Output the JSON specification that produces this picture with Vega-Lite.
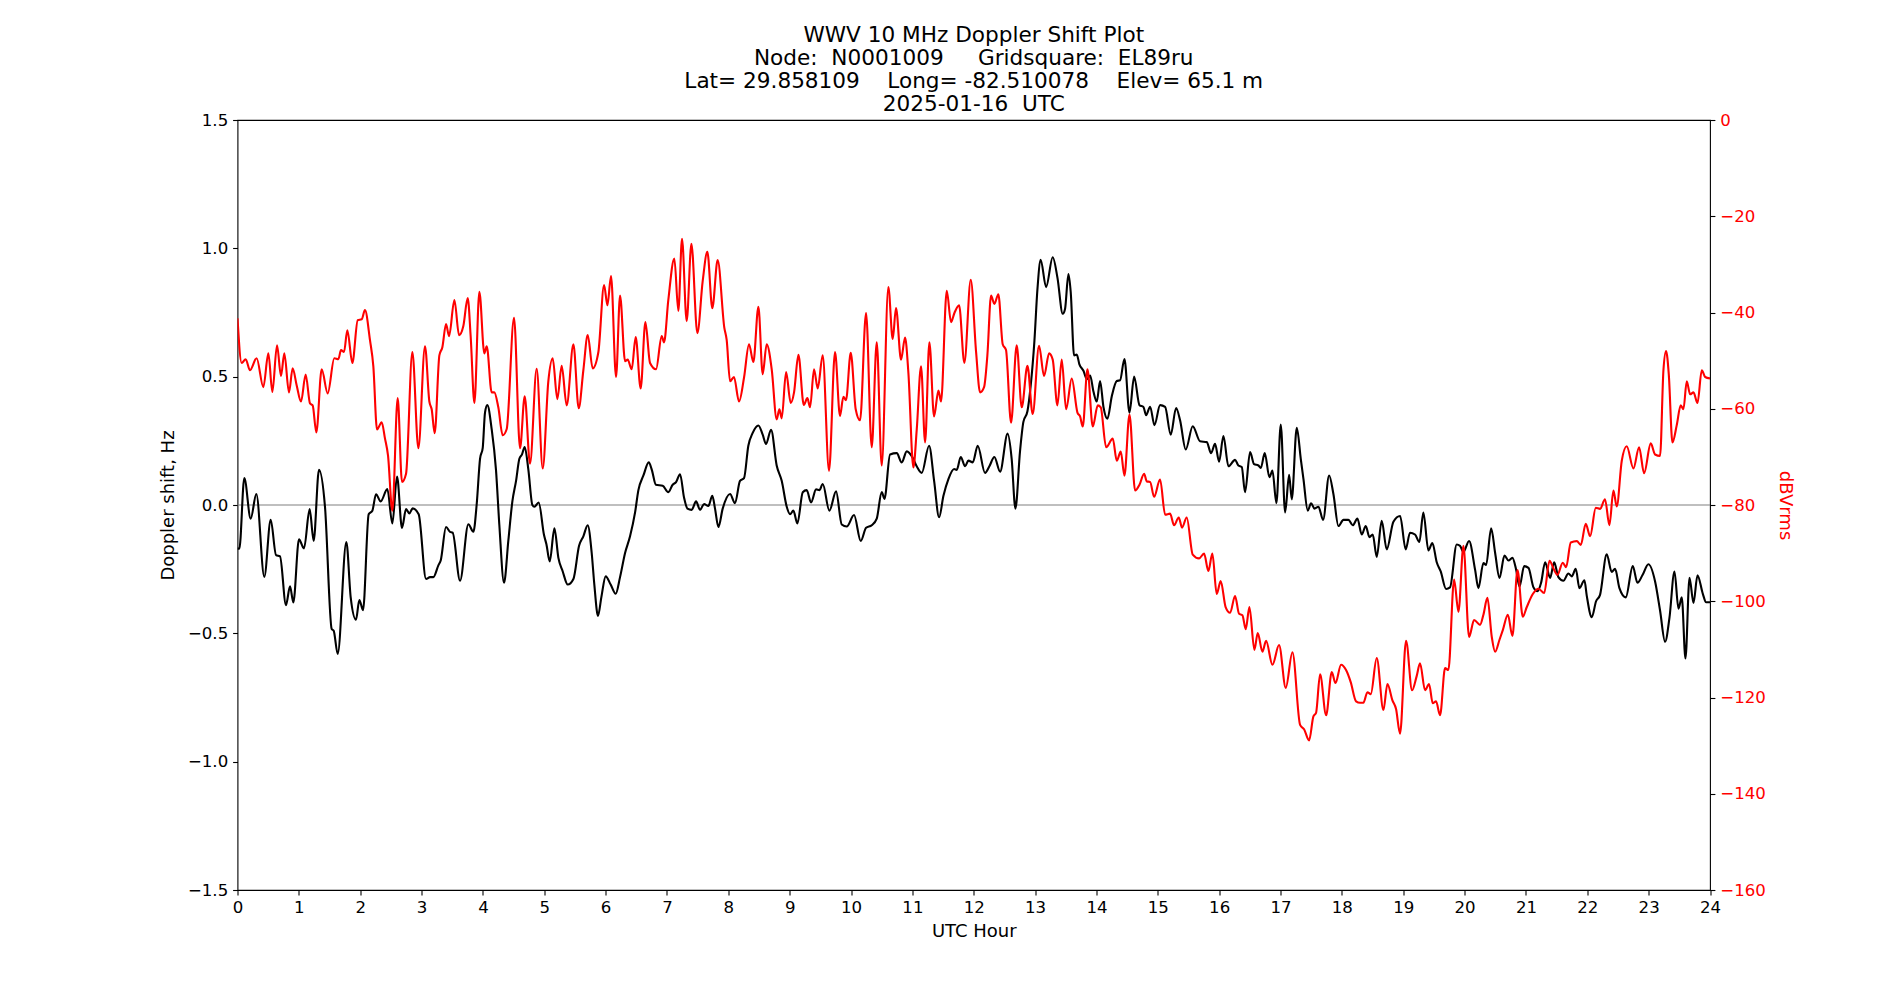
{
"$schema": "https://vega.github.io/schema/vega-lite/v6.json",
"width": 1472.5, "height": 770,
"autosize": {"type": "none"},
"padding": {"left": 237.5, "top": 120, "right": 190, "bottom": 110},
"background": "white",
"config": {
 "view": {"stroke": "black", "strokeWidth": 1.1},
 "font": "DejaVu Sans",
 "axis": {"grid": false, "domain": false, "tickColor": "black", "tickSize": 4.9, "tickWidth": 1.1, "labelFont": "DejaVu Sans", "labelFontSize": 16.6, "labelColor": "black", "labelPadding": 4.9, "labelFlush": false, "labelOverlap": false, "titleFont": "DejaVu Sans", "titleFontSize": 18, "titleFontWeight": "normal", "titleColor": "black"}
},
"title": {"text": ["WWV 10 MHz Doppler Shift Plot", "Node:\u00a0 N0001009 \u00a0\u00a0\u00a0 Gridsquare:\u00a0 EL89ru", "Lat= 29.858109 \u00a0\u00a0 Long= -82.510078 \u00a0\u00a0 Elev= 65.1 m", "2025-01-16\u00a0 UTC"], "font": "DejaVu Sans", "fontSize": 21.6, "fontWeight": "normal", "color": "black", "lineHeight": 23, "anchor": "middle", "offset": -4},
"datasets": {
"doppler": [
{"h":0,"v":-0.17},{"h":0.03,"v":-0.17},{"h":0.111,"v":0.105},{"h":0.215,"v":-0.053},{"h":0.307,"v":0.043},{"h":0.437,"v":-0.28},{"h":0.541,"v":-0.058},{"h":0.628,"v":-0.195},{"h":0.693,"v":-0.2},{"h":0.79,"v":-0.39},{"h":0.856,"v":-0.317},{"h":0.91,"v":-0.38},{"h":1.002,"v":-0.134},{"h":1.084,"v":-0.169},{"h":1.176,"v":-0.016},{"h":1.241,"v":-0.14},{"h":1.328,"v":0.137},{"h":1.426,"v":-0.007},{"h":1.535,"v":-0.483},{"h":1.568,"v":-0.49},{"h":1.633,"v":-0.58},{"h":1.774,"v":-0.144},{"h":1.845,"v":-0.36},{"h":1.931,"v":-0.447},{"h":1.986,"v":-0.37},{"h":2.046,"v":-0.41},{"h":2.138,"v":-0.036},{"h":2.198,"v":-0.022},{"h":2.258,"v":0.042},{"h":2.334,"v":0.014},{"h":2.442,"v":0.062},{"h":2.524,"v":-0.072},{"h":2.6,"v":0.111},{"h":2.681,"v":-0.089},{"h":2.747,"v":-0.016},{"h":2.801,"v":-0.033},{"h":2.855,"v":-0.013},{"h":2.953,"v":-0.036},{"h":3.073,"v":-0.288},{"h":3.138,"v":-0.281},{"h":3.192,"v":-0.281},{"h":3.274,"v":-0.235},{"h":3.312,"v":-0.216},{"h":3.399,"v":-0.086},{"h":3.464,"v":-0.105},{"h":3.507,"v":-0.108},{"h":3.627,"v":-0.295},{"h":3.763,"v":-0.075},{"h":3.844,"v":-0.104},{"h":3.899,"v":0.004},{"h":3.953,"v":0.18},{"h":3.997,"v":0.223},{"h":4.034,"v":0.36},{"h":4.072,"v":0.389},{"h":4.143,"v":0.295},{"h":4.213,"v":0.137},{"h":4.268,"v":-0.079},{"h":4.344,"v":-0.303},{"h":4.415,"v":-0.137},{"h":4.48,"v":0.014},{"h":4.54,"v":0.094},{"h":4.594,"v":0.18},{"h":4.637,"v":0.197},{"h":4.681,"v":0.226},{"h":4.741,"v":0.137},{"h":4.806,"v":0},{"h":4.839,"v":-0.007},{"h":4.909,"v":0.01},{"h":4.996,"v":-0.117},{"h":5.035,"v":-0.153},{"h":5.089,"v":-0.22},{"h":5.165,"v":-0.091},{"h":5.23,"v":-0.206},{"h":5.301,"v":-0.259},{"h":5.382,"v":-0.31},{"h":5.475,"v":-0.288},{"h":5.567,"v":-0.159},{"h":5.637,"v":-0.122},{"h":5.708,"v":-0.079},{"h":5.773,"v":-0.187},{"h":5.816,"v":-0.31},{"h":5.876,"v":-0.432},{"h":5.93,"v":-0.36},{"h":6.001,"v":-0.278},{"h":6.082,"v":-0.31},{"h":6.164,"v":-0.346},{"h":6.235,"v":-0.281},{"h":6.317,"v":-0.187},{"h":6.398,"v":-0.122},{"h":6.48,"v":-0.029},{"h":6.534,"v":0.058},{"h":6.616,"v":0.115},{"h":6.703,"v":0.166},{"h":6.753,"v":0.137},{"h":6.819,"v":0.079},{"h":6.93,"v":0.075},{"h":7.022,"v":0.05},{"h":7.093,"v":0.079},{"h":7.148,"v":0.089},{"h":7.213,"v":0.12},{"h":7.278,"v":0.029},{"h":7.333,"v":-0.014},{"h":7.403,"v":-0.019},{"h":7.474,"v":0.014},{"h":7.539,"v":-0.019},{"h":7.604,"v":0.004},{"h":7.674,"v":-0.004},{"h":7.739,"v":0.036},{"h":7.783,"v":-0.014},{"h":7.838,"v":-0.086},{"h":7.908,"v":-0.014},{"h":8.028,"v":0.043},{"h":8.109,"v":0.007},{"h":8.19,"v":0.094},{"h":8.256,"v":0.105},{"h":8.326,"v":0.231},{"h":8.397,"v":0.281},{"h":8.49,"v":0.31},{"h":8.56,"v":0.274},{"h":8.615,"v":0.238},{"h":8.696,"v":0.293},{"h":8.788,"v":0.154},{"h":8.87,"v":0.094},{"h":8.952,"v":-0.007},{"h":9.006,"v":-0.036},{"h":9.06,"v":-0.022},{"h":9.125,"v":-0.072},{"h":9.213,"v":0.05},{"h":9.277,"v":0.058},{"h":9.348,"v":0.01},{"h":9.43,"v":0.061},{"h":9.484,"v":0.058},{"h":9.539,"v":0.082},{"h":9.647,"v":-0.022},{"h":9.756,"v":0.053},{"h":9.848,"v":-0.076},{"h":9.93,"v":-0.084},{"h":10.049,"v":-0.039},{"h":10.158,"v":-0.14},{"h":10.245,"v":-0.089},{"h":10.337,"v":-0.079},{"h":10.419,"v":-0.053},{"h":10.5,"v":0.05},{"h":10.545,"v":0.024},{"h":10.636,"v":0.197},{"h":10.745,"v":0.202},{"h":10.826,"v":0.166},{"h":10.908,"v":0.209},{"h":11.005,"v":0.184},{"h":11.07,"v":0.151},{"h":11.152,"v":0.125},{"h":11.272,"v":0.231},{"h":11.354,"v":0.094},{"h":11.435,"v":-0.048},{"h":11.506,"v":0.036},{"h":11.587,"v":0.101},{"h":11.68,"v":0.14},{"h":11.723,"v":0.137},{"h":11.788,"v":0.187},{"h":11.859,"v":0.151},{"h":11.913,"v":0.173},{"h":11.984,"v":0.166},{"h":12.065,"v":0.231},{"h":12.184,"v":0.125},{"h":12.255,"v":0.151},{"h":12.336,"v":0.187},{"h":12.429,"v":0.13},{"h":12.552,"v":0.278},{"h":12.618,"v":0.18},{"h":12.679,"v":-0.014},{"h":12.754,"v":0.209},{"h":12.809,"v":0.324},{"h":12.875,"v":0.365},{"h":12.929,"v":0.467},{"h":12.989,"v":0.64},{"h":13.038,"v":0.841},{"h":13.091,"v":0.955},{"h":13.179,"v":0.849},{"h":13.287,"v":0.965},{"h":13.364,"v":0.886},{"h":13.45,"v":0.745},{"h":13.488,"v":0.764},{"h":13.543,"v":0.9},{"h":13.581,"v":0.828},{"h":13.635,"v":0.583},{"h":13.679,"v":0.586},{"h":13.722,"v":0.548},{"h":13.788,"v":0.523},{"h":13.843,"v":0.49},{"h":13.897,"v":0.504},{"h":13.951,"v":0.442},{"h":14.005,"v":0.403},{"h":14.059,"v":0.483},{"h":14.114,"v":0.382},{"h":14.179,"v":0.336},{"h":14.25,"v":0.424},{"h":14.331,"v":0.483},{"h":14.385,"v":0.486},{"h":14.456,"v":0.569},{"h":14.538,"v":0.36},{"h":14.614,"v":0.5},{"h":14.701,"v":0.389},{"h":14.766,"v":0.382},{"h":14.809,"v":0.35},{"h":14.875,"v":0.383},{"h":14.945,"v":0.311},{"h":15.037,"v":0.389},{"h":15.119,"v":0.382},{"h":15.211,"v":0.274},{"h":15.298,"v":0.378},{"h":15.363,"v":0.33},{"h":15.455,"v":0.216},{"h":15.569,"v":0.307},{"h":15.689,"v":0.248},{"h":15.798,"v":0.245},{"h":15.868,"v":0.202},{"h":15.933,"v":0.238},{"h":15.999,"v":0.169},{"h":16.069,"v":0.269},{"h":16.151,"v":0.151},{"h":16.259,"v":0.176},{"h":16.313,"v":0.154},{"h":16.368,"v":0.148},{"h":16.422,"v":0.05},{"h":16.504,"v":0.206},{"h":16.569,"v":0.159},{"h":16.64,"v":0.154},{"h":16.678,"v":0.144},{"h":16.743,"v":0.202},{"h":16.819,"v":0.108},{"h":16.868,"v":0.134},{"h":16.933,"v":0.007},{"h":17.004,"v":0.313},{"h":17.075,"v":-0.029},{"h":17.14,"v":0.118},{"h":17.183,"v":0.022},{"h":17.265,"v":0.301},{"h":17.33,"v":0.18},{"h":17.374,"v":0.101},{"h":17.444,"v":-0.022},{"h":17.498,"v":0.007},{"h":17.553,"v":-0.014},{"h":17.618,"v":-0.007},{"h":17.694,"v":-0.058},{"h":17.792,"v":0.115},{"h":17.862,"v":0.043},{"h":17.944,"v":-0.082},{"h":18.025,"v":-0.058},{"h":18.107,"v":-0.058},{"h":18.177,"v":-0.079},{"h":18.253,"v":-0.053},{"h":18.324,"v":-0.115},{"h":18.389,"v":-0.082},{"h":18.449,"v":-0.125},{"h":18.503,"v":-0.115},{"h":18.568,"v":-0.202},{"h":18.649,"v":-0.062},{"h":18.731,"v":-0.173},{"h":18.84,"v":-0.065},{"h":18.949,"v":-0.043},{"h":19.04,"v":-0.173},{"h":19.111,"v":-0.108},{"h":19.192,"v":-0.115},{"h":19.263,"v":-0.144},{"h":19.328,"v":-0.029},{"h":19.41,"v":-0.177},{"h":19.475,"v":-0.148},{"h":19.546,"v":-0.223},{"h":19.611,"v":-0.259},{"h":19.698,"v":-0.327},{"h":19.763,"v":-0.321},{"h":19.872,"v":-0.154},{"h":19.926,"v":-0.159},{"h":19.981,"v":-0.183},{"h":20.073,"v":-0.14},{"h":20.171,"v":-0.252},{"h":20.225,"v":-0.324},{"h":20.307,"v":-0.226},{"h":20.351,"v":-0.234},{"h":20.433,"v":-0.091},{"h":20.498,"v":-0.187},{"h":20.569,"v":-0.284},{"h":20.65,"v":-0.197},{"h":20.715,"v":-0.216},{"h":20.78,"v":-0.206},{"h":20.84,"v":-0.252},{"h":20.895,"v":-0.318},{"h":20.971,"v":-0.238},{"h":21.041,"v":-0.245},{"h":21.123,"v":-0.321},{"h":21.188,"v":-0.336},{"h":21.247,"v":-0.303},{"h":21.313,"v":-0.223},{"h":21.394,"v":-0.284},{"h":21.46,"v":-0.223},{"h":21.529,"v":-0.281},{"h":21.611,"v":-0.295},{"h":21.692,"v":-0.267},{"h":21.747,"v":-0.278},{"h":21.812,"v":-0.249},{"h":21.872,"v":-0.324},{"h":21.953,"v":-0.293},{"h":21.991,"v":-0.353},{"h":22.073,"v":-0.437},{"h":22.143,"v":-0.375},{"h":22.208,"v":-0.35},{"h":22.317,"v":-0.192},{"h":22.398,"v":-0.261},{"h":22.453,"v":-0.249},{"h":22.524,"v":-0.324},{"h":22.627,"v":-0.36},{"h":22.741,"v":-0.238},{"h":22.818,"v":-0.303},{"h":22.898,"v":-0.274},{"h":22.996,"v":-0.231},{"h":23.105,"v":-0.298},{"h":23.186,"v":-0.411},{"h":23.268,"v":-0.533},{"h":23.339,"v":-0.44},{"h":23.421,"v":-0.259},{"h":23.486,"v":-0.404},{"h":23.54,"v":-0.36},{"h":23.6,"v":-0.598},{"h":23.666,"v":-0.284},{"h":23.731,"v":-0.382},{"h":23.796,"v":-0.274},{"h":23.883,"v":-0.346},{"h":23.937,"v":-0.379},{"h":24,"v":-0.379}
],
"power": [
{"h":0,"d":-41.2},{"h":0.068,"d":-50.5},{"h":0.133,"d":-49.7},{"h":0.204,"d":-52},{"h":0.312,"d":-49.5},{"h":0.421,"d":-55.5},{"h":0.503,"d":-48.5},{"h":0.568,"d":-56.5},{"h":0.644,"d":-46.8},{"h":0.709,"d":-53.2},{"h":0.763,"d":-48.5},{"h":0.839,"d":-56.6},{"h":0.899,"d":-51.6},{"h":0.964,"d":-55.1},{"h":1.035,"d":-58.5},{"h":1.111,"d":-52.9},{"h":1.182,"d":-58.9},{"h":1.225,"d":-59.3},{"h":1.285,"d":-64.9},{"h":1.372,"d":-51.8},{"h":1.47,"d":-56.8},{"h":1.578,"d":-49.5},{"h":1.644,"d":-49.7},{"h":1.687,"d":-47.8},{"h":1.736,"d":-48.2},{"h":1.79,"d":-43.7},{"h":1.872,"d":-50.5},{"h":1.959,"d":-41.6},{"h":2.024,"d":-41.4},{"h":2.078,"d":-39.5},{"h":2.16,"d":-45.8},{"h":2.214,"d":-51.2},{"h":2.274,"d":-64.3},{"h":2.35,"d":-62.8},{"h":2.404,"d":-66.2},{"h":2.453,"d":-69.7},{"h":2.524,"d":-81.2},{"h":2.611,"d":-57.8},{"h":2.681,"d":-75.2},{"h":2.747,"d":-73.5},{"h":2.85,"d":-48.2},{"h":2.948,"d":-68.2},{"h":3.056,"d":-47},{"h":3.127,"d":-58.5},{"h":3.165,"d":-60.1},{"h":3.214,"d":-65.1},{"h":3.29,"d":-48.9},{"h":3.339,"d":-47.2},{"h":3.399,"d":-42.4},{"h":3.448,"d":-44.9},{"h":3.535,"d":-37.4},{"h":3.611,"d":-44.7},{"h":3.681,"d":-42.8},{"h":3.752,"d":-37},{"h":3.801,"d":-45.1},{"h":3.861,"d":-58.8},{"h":3.942,"d":-35.7},{"h":4.023,"d":-48.5},{"h":4.062,"d":-47},{"h":4.143,"d":-56.6},{"h":4.186,"d":-56.6},{"h":4.251,"d":-59.7},{"h":4.322,"d":-65.5},{"h":4.388,"d":-64.2},{"h":4.507,"d":-41.1},{"h":4.605,"d":-68.2},{"h":4.681,"d":-57.4},{"h":4.768,"d":-71.4},{"h":4.876,"d":-51.7},{"h":4.975,"d":-72.4},{"h":5.066,"d":-54.3},{"h":5.137,"d":-49.5},{"h":5.213,"d":-58},{"h":5.284,"d":-51.1},{"h":5.365,"d":-59.3},{"h":5.475,"d":-46.6},{"h":5.561,"d":-59.9},{"h":5.637,"d":-52},{"h":5.708,"d":-44.7},{"h":5.789,"d":-51.6},{"h":5.882,"d":-48.2},{"h":5.975,"d":-34.3},{"h":6.029,"d":-38.5},{"h":6.088,"d":-32.4},{"h":6.17,"d":-53.4},{"h":6.235,"d":-36.5},{"h":6.317,"d":-50.1},{"h":6.36,"d":-49.8},{"h":6.425,"d":-51.8},{"h":6.49,"d":-45.1},{"h":6.571,"d":-55.8},{"h":6.648,"d":-42},{"h":6.724,"d":-50.5},{"h":6.822,"d":-51.8},{"h":6.914,"d":-44.9},{"h":6.952,"d":-46.2},{"h":7.022,"d":-37.4},{"h":7.12,"d":-28.8},{"h":7.185,"d":-39.7},{"h":7.245,"d":-24.7},{"h":7.321,"d":-41.8},{"h":7.398,"d":-25.7},{"h":7.495,"d":-44.3},{"h":7.582,"d":-33.5},{"h":7.658,"d":-27.4},{"h":7.739,"d":-39.1},{"h":7.826,"d":-29.1},{"h":7.935,"d":-43.2},{"h":7.973,"d":-45.7},{"h":8.028,"d":-54.3},{"h":8.092,"d":-53.4},{"h":8.174,"d":-58.5},{"h":8.256,"d":-53.5},{"h":8.337,"d":-46.6},{"h":8.408,"d":-50.3},{"h":8.49,"d":-38.8},{"h":8.56,"d":-52.8},{"h":8.625,"d":-46.6},{"h":8.707,"d":-51.8},{"h":8.788,"d":-62.2},{"h":8.832,"d":-60.1},{"h":8.87,"d":-62},{"h":8.941,"d":-52.4},{"h":9.017,"d":-58.8},{"h":9.071,"d":-56.6},{"h":9.142,"d":-48.8},{"h":9.23,"d":-59.2},{"h":9.288,"d":-57.8},{"h":9.332,"d":-59.7},{"h":9.397,"d":-51.8},{"h":9.457,"d":-55.8},{"h":9.538,"d":-48.9},{"h":9.641,"d":-72.9},{"h":9.739,"d":-48.2},{"h":9.82,"d":-61.5},{"h":9.875,"d":-57.5},{"h":9.918,"d":-58.2},{"h":9.995,"d":-48.4},{"h":10.076,"d":-60.1},{"h":10.147,"d":-62.4},{"h":10.245,"d":-40.1},{"h":10.337,"d":-68},{"h":10.419,"d":-46.2},{"h":10.5,"d":-71.8},{"h":10.608,"d":-34.7},{"h":10.679,"d":-45.5},{"h":10.733,"d":-39.1},{"h":10.815,"d":-49.8},{"h":10.88,"d":-45.2},{"h":10.935,"d":-52.6},{"h":11.016,"d":-72.2},{"h":11.071,"d":-64.3},{"h":11.141,"d":-51.2},{"h":11.207,"d":-67},{"h":11.277,"d":-46.2},{"h":11.353,"d":-61.6},{"h":11.424,"d":-56.2},{"h":11.467,"d":-58.5},{"h":11.56,"d":-35.5},{"h":11.63,"d":-42},{"h":11.685,"d":-40.1},{"h":11.761,"d":-38.5},{"h":11.847,"d":-50.5},{"h":11.951,"d":-33.2},{"h":12.038,"d":-48.2},{"h":12.103,"d":-56.6},{"h":12.168,"d":-55.5},{"h":12.222,"d":-48.9},{"h":12.282,"d":-36.5},{"h":12.336,"d":-38.2},{"h":12.401,"d":-36.2},{"h":12.472,"d":-46.6},{"h":12.526,"d":-47.8},{"h":12.608,"d":-62.9},{"h":12.7,"d":-46.8},{"h":12.782,"d":-59.7},{"h":12.875,"d":-51.1},{"h":12.961,"d":-61.1},{"h":13.064,"d":-46.9},{"h":13.146,"d":-53.2},{"h":13.228,"d":-48.5},{"h":13.287,"d":-49.8},{"h":13.364,"d":-59.3},{"h":13.434,"d":-49.8},{"h":13.505,"d":-60.1},{"h":13.597,"d":-53.7},{"h":13.69,"d":-60.8},{"h":13.733,"d":-61.6},{"h":13.777,"d":-63.7},{"h":13.853,"d":-51.8},{"h":13.94,"d":-63.7},{"h":14.021,"d":-59.3},{"h":14.07,"d":-59.7},{"h":14.157,"d":-68},{"h":14.266,"d":-66.2},{"h":14.331,"d":-70.8},{"h":14.396,"d":-68.9},{"h":14.456,"d":-73.9},{"h":14.538,"d":-61.2},{"h":14.63,"d":-77},{"h":14.701,"d":-75.8},{"h":14.777,"d":-73.5},{"h":14.82,"d":-75.1},{"h":14.875,"d":-75.2},{"h":14.939,"d":-78.3},{"h":15.037,"d":-74.7},{"h":15.119,"d":-82},{"h":15.2,"d":-81.8},{"h":15.265,"d":-84.2},{"h":15.341,"d":-82.6},{"h":15.395,"d":-84.7},{"h":15.471,"d":-82.6},{"h":15.569,"d":-90.3},{"h":15.672,"d":-91.1},{"h":15.754,"d":-90.1},{"h":15.824,"d":-93.7},{"h":15.889,"d":-90.1},{"h":15.96,"d":-98.5},{"h":16.025,"d":-95.8},{"h":16.105,"d":-101.2},{"h":16.178,"d":-102.4},{"h":16.259,"d":-98.9},{"h":16.324,"d":-102.6},{"h":16.379,"d":-102.9},{"h":16.433,"d":-105.8},{"h":16.493,"d":-101.2},{"h":16.574,"d":-110.1},{"h":16.629,"d":-106.6},{"h":16.705,"d":-110.5},{"h":16.765,"d":-108.2},{"h":16.868,"d":-113.2},{"h":16.976,"d":-109.1},{"h":17.085,"d":-118},{"h":17.194,"d":-110.6},{"h":17.319,"d":-125.7},{"h":17.384,"d":-126.6},{"h":17.466,"d":-128.9},{"h":17.536,"d":-123.9},{"h":17.579,"d":-123.2},{"h":17.645,"d":-115.2},{"h":17.743,"d":-123.7},{"h":17.835,"d":-114.7},{"h":17.895,"d":-117},{"h":17.987,"d":-113.2},{"h":18.068,"d":-114.3},{"h":18.144,"d":-116.8},{"h":18.231,"d":-120.8},{"h":18.296,"d":-121.1},{"h":18.351,"d":-121.1},{"h":18.416,"d":-118.9},{"h":18.471,"d":-119.3},{"h":18.568,"d":-111.8},{"h":18.677,"d":-122.6},{"h":18.742,"d":-117.2},{"h":18.824,"d":-120.6},{"h":18.883,"d":-122.4},{"h":18.948,"d":-127.5},{"h":19.046,"d":-108.2},{"h":19.144,"d":-118.5},{"h":19.22,"d":-115.5},{"h":19.274,"d":-112.9},{"h":19.356,"d":-118.5},{"h":19.421,"d":-117.2},{"h":19.481,"d":-121.2},{"h":19.535,"d":-120.8},{"h":19.6,"d":-123.7},{"h":19.682,"d":-113.9},{"h":19.736,"d":-114.3},{"h":19.829,"d":-95.5},{"h":19.9,"d":-102.2},{"h":19.981,"d":-88.5},{"h":20.073,"d":-107.4},{"h":20.155,"d":-103.9},{"h":20.252,"d":-104.9},{"h":20.307,"d":-102.8},{"h":20.372,"d":-99.3},{"h":20.443,"d":-107.4},{"h":20.498,"d":-110.5},{"h":20.569,"d":-108},{"h":20.623,"d":-106},{"h":20.705,"d":-102.8},{"h":20.78,"d":-107.2},{"h":20.862,"d":-93.5},{"h":20.949,"d":-103.2},{"h":21.014,"d":-101.2},{"h":21.112,"d":-98.5},{"h":21.205,"d":-97.4},{"h":21.297,"d":-98.3},{"h":21.384,"d":-91.6},{"h":21.46,"d":-93.5},{"h":21.514,"d":-94.5},{"h":21.6,"d":-92},{"h":21.655,"d":-92.9},{"h":21.731,"d":-87.8},{"h":21.829,"d":-87.5},{"h":21.894,"d":-88.3},{"h":21.975,"d":-83.9},{"h":22.046,"d":-86.5},{"h":22.138,"d":-80.6},{"h":22.208,"d":-80.8},{"h":22.289,"d":-78.8},{"h":22.36,"d":-84.2},{"h":22.426,"d":-77},{"h":22.48,"d":-80.3},{"h":22.562,"d":-70.8},{"h":22.643,"d":-67.8},{"h":22.752,"d":-72.4},{"h":22.844,"d":-68},{"h":22.926,"d":-73.4},{"h":23.034,"d":-67.2},{"h":23.105,"d":-69.5},{"h":23.186,"d":-69.8},{"h":23.241,"d":-52},{"h":23.284,"d":-48},{"h":23.328,"d":-52.8},{"h":23.388,"d":-67},{"h":23.458,"d":-63.4},{"h":23.523,"d":-59.3},{"h":23.567,"d":-60.1},{"h":23.621,"d":-54.3},{"h":23.676,"d":-57},{"h":23.731,"d":-56.6},{"h":23.796,"d":-58.8},{"h":23.866,"d":-52},{"h":23.921,"d":-53.4},{"h":24,"d":-53.7}
]
},
"layer": [
 {"data": {"values": [{"ref": 0}]},
  "mark": {"type": "rule", "color": "#808080", "strokeWidth": 1.1},
  "encoding": {"y": {"field": "ref", "type": "quantitative", "scale": {"domain": [-1.5, 1.5], "nice": false, "zero": false}, "axis": null}}},
 {"data": {"name": "doppler"},
  "mark": {"type": "line", "color": "black", "strokeWidth": 2.1, "interpolate": "monotone", "clip": true},
  "encoding": {
   "x": {"field": "h", "type": "quantitative", "scale": {"domain": [0, 24], "nice": false, "zero": false}, "axis": {"values": [0,1,2,3,4,5,6,7,8,9,10,11,12,13,14,15,16,17,18,19,20,21,22,23,24], "format": "d", "title": "UTC Hour", "titlePadding": 6}},
   "y": {"field": "v", "type": "quantitative", "scale": {"domain": [-1.5, 1.5], "nice": false, "zero": false}, "axis": {"orient": "left", "values": [-1.5,-1,-0.5,0,0.5,1,1.5], "format": ".1f", "title": "Doppler shift, Hz", "titlePadding": 10}}
  }},
 {"data": {"name": "power"},
  "mark": {"type": "line", "color": "red", "strokeWidth": 2.1, "interpolate": "monotone", "clip": true},
  "encoding": {
   "x": {"field": "h", "type": "quantitative"},
   "y": {"field": "d", "type": "quantitative", "scale": {"domain": [-160, 0], "nice": false, "zero": false}, "axis": {"orient": "right", "values": [0,-20,-40,-60,-80,-100,-120,-140,-160], "format": "d", "title": "dBVrms", "titleColor": "red", "labelColor": "red", "titlePadding": 10}}
  }}
],
"resolve": {"scale": {"y": "independent"}, "axis": {"y": "independent"}}
}
